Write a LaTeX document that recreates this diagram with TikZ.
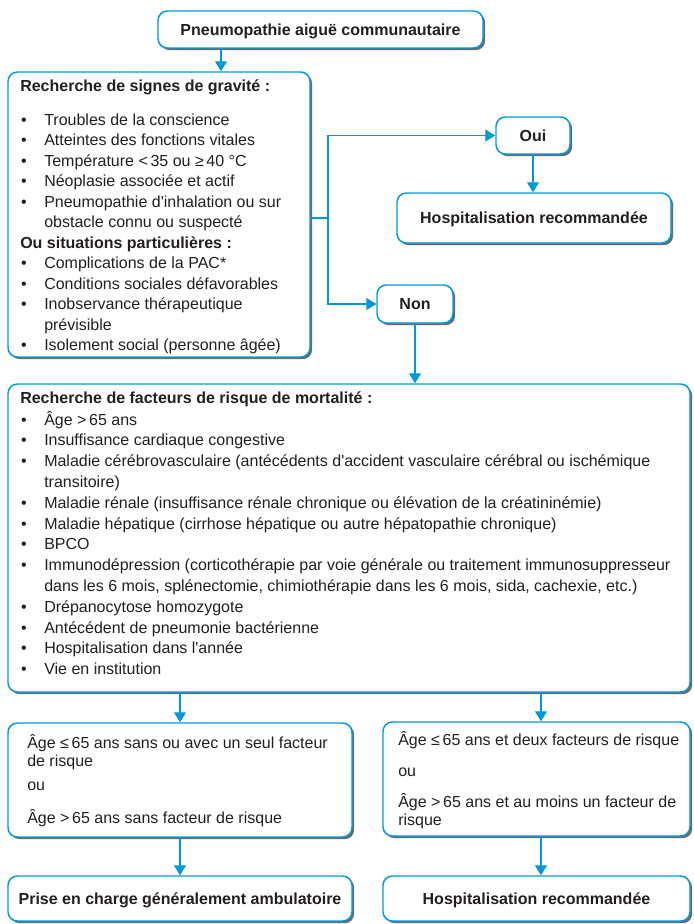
\documentclass[tikz,border=0pt]{standalone}
\usepackage{fontspec}
\setmainfont{Liberation Sans}
\usetikzlibrary{arrows.meta,fit,shadows}
\definecolor{lineblue}{RGB}{0,153,218}
\definecolor{inktext}{RGB}{35,31,32}
\definecolor{shadowgray}{RGB}{105,105,105}
\newcommand\bhead[1]{\hbox{\bfseries #1}}
\newcommand\bitem[1]{\hbox{\makebox[18pt][l]{\hspace{0.6pt}\textbullet}#1}}
\newcommand\bcont[1]{\hbox{\hspace{18pt}#1}}
\newcommand\bline[1]{\hbox{#1}}
\newcommand\apos{\textquotesingle}
\begin{document}
\begin{tikzpicture}[x=0.75pt,y=-0.75pt,
  font=\fontsize{12}{15}\selectfont, text=inktext,
  box/.style={draw=lineblue, line width=1.1pt, rounded corners=7pt, fill=white,
    inner sep=0pt,
    general shadow={fill=shadowgray, shadow xshift=1.6pt, shadow yshift=-1.6pt}},
  boldtxt/.style={inner sep=0pt, anchor=center, text height=8.6pt, text depth=0pt,
    font=\fontsize{12}{15}\selectfont\bfseries},
  txt/.style={inner sep=0pt, anchor=base west},
  arr/.style={draw=lineblue, line width=0.9pt, -{Triangle[width=9pt,length=7.5pt]}},
  conn/.style={draw=lineblue, line width=0.9pt}]
\useasboundingbox (0,0) rectangle (693,924);

% boxes
\node[box, fit={(158,11) (483,48)}] (b1) {};
\node[box, fit={(8,72) (310,357)}] (b2) {};
\node[box, fit={(496,117) (570,154)}] (oui) {};
\node[box, fit={(397,193) (671,243)}] (hosp1) {};
\node[box, fit={(377,285) (453,323)}] (non) {};
\node[box, fit={(8,384) (690,692)}] (b3) {};
\node[box, fit={(8,723) (352,837)}] (b4) {};
\node[box, fit={(383,722) (690,836)}] (b4b) {};
\node[box, fit={(8,876) (352,921)}] (b5) {};
\node[box, fit={(383,876) (690,921)}] (b5b) {};

% single-line bold texts
\node[boldtxt] (t1) at (b1.center) {Pneumopathie aiguë communautaire};
\node[boldtxt] (toui) at (oui.center) {Oui};
\node[boldtxt] (thosp1) at (hosp1.center) {Hospitalisation recommandée};
\node[boldtxt] (tnon) at (non.center) {Non};
\node[boldtxt] (t5) at (b5.center) {Prise en charge généralement ambulatoire};
\node[boldtxt] (t5b) at (b5b.center) {Hospitalisation recommandée};

% list texts
\node[txt] (t2) at (20,92) {\vtop{\baselineskip=15.375pt \lineskiplimit=-100pt
  \bhead{Recherche de signes de gravité :}
  \vskip 9.4pt
  \bitem{Troubles de la conscience}
  \bitem{Atteintes des fonctions vitales}
  \bitem{Température <\,35 ou ≥\,40 °C}
  \bitem{Néoplasie associée et actif}
  \bitem{Pneumopathie d\apos inhalation ou sur}
  \bcont{obstacle connu ou suspecté}
  \bhead{Ou situations particulières :}
  \bitem{Complications de la PAC*}
  \bitem{Conditions sociales défavorables}
  \bitem{Inobservance thérapeutique}
  \bcont{prévisible}
  \bitem{Isolement social (personne âgée)}}};

\node[txt] (t3) at (20,403) {\vtop{\baselineskip=15.6pt \lineskiplimit=-100pt
  \bhead{Recherche de facteurs de risque de mortalité :}
  \vskip 0.9pt
  \bitem{Âge >\,65 ans}
  \bitem{Insuffisance cardiaque congestive}
  \bitem{Maladie cérébrovasculaire (antécédents d\apos accident vasculaire cérébral ou ischémique}
  \bcont{transitoire)}
  \bitem{Maladie rénale (insuffisance rénale chronique ou élévation de la créatininémie)}
  \bitem{Maladie hépatique (cirrhose hépatique ou autre hépatopathie chronique)}
  \bitem{BPCO}
  \bitem{Immunodépression (corticothérapie par voie générale ou traitement immunosuppresseur}
  \bcont{dans les 6 mois, splénectomie, chimiothérapie dans les 6 mois, sida, cachexie, etc.)}
  \bitem{Drépanocytose homozygote}
  \bitem{Antécédent de pneumonie bactérienne}
  \bitem{Hospitalisation dans l\apos année}
  \bitem{Vie en institution}}};

\node[txt] (t4) at (27,748.5) {\vtop{\baselineskip=13.5pt \lineskiplimit=-100pt
  \bline{Âge ≤\,65 ans sans ou avec un seul facteur}
  \bline{de risque}
  \vskip 4.5pt
  \bline{ou}
  \vskip 11.25pt
  \bline{Âge >\,65 ans sans facteur de risque}}};

\node[txt] (t4b) at (398,745.5) {\vtop{\baselineskip=13.5pt \lineskiplimit=-100pt
  \bline{Âge ≤\,65 ans et deux facteurs de risque}
  \vskip 9.4pt
  \bline{ou}
  \vskip 9.75pt
  \bline{Âge >\,65 ans et au moins un facteur de}
  \bline{risque}}};

% connectors
\coordinate (j) at (328,218);
\draw[arr] (221,0 |- b1.south) -- (221,0 |- b2.north);
\draw[conn] (b2.east |- j) -- (j);
\draw[arr] (j) |- (oui.west);
\draw[arr] (j) |- (non.west);
\draw[arr] (oui.south) -- (oui.south |- hosp1.north);
\draw[arr] (non.south) -- (non.south |- b3.north);
\draw[arr] (b4.north |- b3.south) -- (b4.north);
\draw[arr] (541,0 |- b3.south) -- (541,0 |- b4b.north);
\draw[arr] (b4.south) -- (b5.north);
\draw[arr] (541,0 |- b4b.south) -- (541,0 |- b5b.north);
\end{tikzpicture}
\end{document}
